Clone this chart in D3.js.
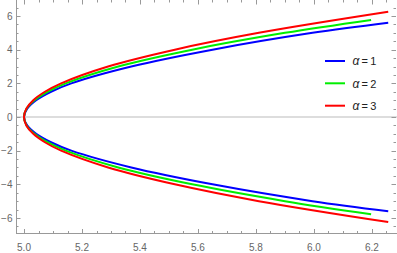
<!DOCTYPE html>
<html>
<head>
<meta charset="utf-8">
<script src="https://cdn.jsdelivr.net/npm/d3@7/dist/d3.min.js"></script>
<style>
  html, body { margin: 0; padding: 0; background: #fff; }
  svg { display: block; font-family: "Liberation Sans", Arial, sans-serif; }
</style>
</head>
<body>
<div id="chart"></div>
<script>
// Data: each curve goes from its lower end, through the
// vertex at (5, 0), up to its upper end.
const alphas = [1, 2, 3];
const colors = ["#0000ff", "#00ee00", "#ff0000"];

const yBlue  = [-5.60, -5, -4, -3, -2, -1.5, -1, -0.5, 0, 0.5, 1, 1.5, 2, 3, 4, 5, 5.60];
const xBlue  = [6.256, 5.995, 5.650, 5.370, 5.163, 5.093, 5.042, 5.011, 5.0, 5.011, 5.042, 5.093, 5.163, 5.370, 5.650, 5.995, 6.256];

const yGreen = [-5.78, -5, -4, -3, -2, -1.5, -1, -0.5, 0, 0.5, 1, 1.5, 2, 3, 4, 5, 5.77];
const xGreen = [6.197, 5.900, 5.580, 5.325, 5.144, 5.081, 5.036, 5.009, 5.0, 5.009, 5.036, 5.081, 5.144, 5.325, 5.580, 5.900, 6.197];

const yRed   = [-6.24, -5, -4, -3, -2, -1.5, -1, -0.5, 0, 0.5, 1, 1.5, 2, 3, 4, 5, 6.25];
const xRed   = [6.256, 5.810, 5.520, 5.290, 5.128, 5.072, 5.032, 5.008, 5.0, 5.008, 5.032, 5.072, 5.128, 5.290, 5.520, 5.810, 6.256];

const xTicks = [5.0, 5.2, 5.4, 5.6, 5.8, 6.0, 6.2];
const yTicks = [-6, -4, -2, 0, 2, 4, 6];

const W = 397, H = 253;
const plot = { left: 16, right: 396, top: 0, bottom: 233.5 };

const x = d3.scaleLinear().domain([4.9724, 6.2828]).range([plot.left, plot.right]);
const y = d3.scaleLinear().domain([6.952, -6.922]).range([plot.top, plot.bottom]);

const svg = d3.select("#chart").append("svg")
  .attr("width", W)
  .attr("height", H);

const frameColor = "#999999";
const labelColor = "#666666";

// zero line
svg.append("line")
  .attr("x1", plot.left).attr("x2", W)
  .attr("y1", y(0)).attr("y2", y(0))
  .attr("stroke", "#bbbbbb")
  .attr("stroke-width", 1);

// curves
const series = [
  { xs: xBlue,  ys: yBlue  },
  { xs: xGreen, ys: yGreen },
  { xs: xRed,   ys: yRed   },
];
const line = d3.line()
  .x(d => x(d[0]))
  .y(d => y(d[1]))
  .curve(d3.curveCatmullRom.alpha(0.5));

svg.append("g").selectAll("path")
  .data(series)
  .join("path")
  .attr("fill", "none")
  .attr("stroke", (d, i) => colors[i])
  .attr("stroke-width", 2)
  .attr("d", d => line(d.xs.map((v, i) => [v, d.ys[i]])));

// frame ticks (inward, Mathematica style)
const xMinor = d3.range(5.0, 6.2801, 0.05).filter(v => Math.abs(v * 5 - Math.round(v * 5)) > 1e-6);
const yMinor = d3.range(-6.5, 6.51, 0.5).filter(v => Math.abs(v / 2 - Math.round(v / 2)) > 1e-6);

const gAxes = svg.append("g").attr("stroke", frameColor).attr("stroke-width", 1);

// bottom + left frame lines
gAxes.append("line")
  .attr("x1", plot.left).attr("x2", W)
  .attr("y1", plot.bottom).attr("y2", plot.bottom);
gAxes.append("line")
  .attr("x1", plot.left + 0.5).attr("x2", plot.left + 0.5)
  .attr("y1", 0).attr("y2", plot.bottom);

function xTick(v, len) {
  const px = Math.round(x(v)) + 0.5;
  gAxes.append("line").attr("x1", px).attr("x2", px)
    .attr("y1", plot.bottom).attr("y2", plot.bottom - len);
  gAxes.append("line").attr("x1", px).attr("x2", px)
    .attr("y1", 0).attr("y2", len);
}
function yTick(v, len) {
  const py = Math.round(y(v)) + 0.5;
  gAxes.append("line").attr("x1", plot.left).attr("x2", plot.left + len)
    .attr("y1", py).attr("y2", py);
  gAxes.append("line").attr("x1", plot.right).attr("x2", plot.right - len)
    .attr("y1", py).attr("y2", py);
}
xTicks.forEach(v => xTick(v, 4.5));
xMinor.forEach(v => xTick(v, 2.5));
yTicks.forEach(v => yTick(v, 4.5));
yMinor.forEach(v => yTick(v, 2.5));

// tick labels
svg.append("g").selectAll("text")
  .data(xTicks)
  .join("text")
  .attr("x", d => x(d))
  .attr("y", 251)
  .attr("text-anchor", "middle")
  .attr("font-size", 10)
  .attr("fill", labelColor)
  .text(d => d.toFixed(1));

svg.append("g").selectAll("text")
  .data(yTicks)
  .join("text")
  .attr("x", 12.5)
  .attr("y", d => y(d) + 3.6)
  .attr("text-anchor", "end")
  .attr("font-size", 10)
  .attr("fill", labelColor)
  .text(d => d < 0 ? "\u2212" + Math.abs(d) : String(d));

// legend
const legendY = [61, 83.3, 105.7];
const gLeg = svg.append("g");
alphas.forEach((a, i) => {
  gLeg.append("line")
    .attr("x1", 325).attr("x2", 345)
    .attr("y1", legendY[i]).attr("y2", legendY[i])
    .attr("stroke", colors[i])
    .attr("stroke-width", 2);
  const t = gLeg.append("text")
    .attr("x", 352.5)
    .attr("y", legendY[i] + 4.2)
    .attr("font-size", 12)
    .attr("fill", "#222222");
  t.append("tspan").attr("font-style", "italic").text("\u03b1");
  t.append("tspan").attr("font-size", 11).text("\u2009=\u20091");
  t.select("tspan:last-child").text("\u2009=\u2009" + a);
});
</script>
</body>
</html>
